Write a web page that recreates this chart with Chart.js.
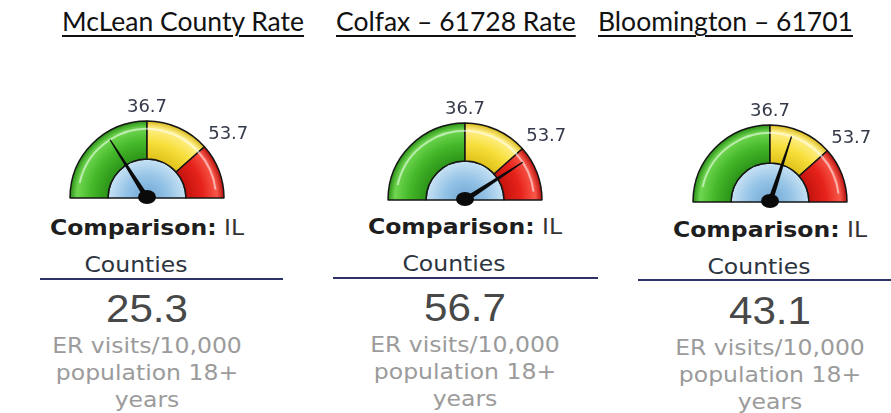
<!DOCTYPE html>
<html>
<head>
<meta charset="utf-8">
<script src="https://cdn.jsdelivr.net/npm/chart.js@4.4.1/dist/chart.umd.min.js"></script>
<style>
  body { margin: 0; background: #fff; }
  #page { position: relative; width: 891px; height: 413px; overflow: hidden; }
  .title { position: absolute; top: 5px; font-family: Lato, sans-serif; font-size: 26.5px;
           color: #111; text-decoration: underline; text-decoration-thickness: 2px;
           text-underline-offset: 4px; white-space: nowrap; }
  .gauge { position: absolute; }
  .line { position: absolute; width: 300px; text-align: center; white-space: nowrap;
          font-family: "DejaVu Sans", Verdana, sans-serif; transform: scaleX(1.12); }
  .cmp { font-size: 21px; color: #333; line-height: 26px; }
  .cmp b { color: #1e1e1e; }
  .cty { font-size: 21px; color: #2c3440; line-height: 26px; }
  .val { font-family: "Liberation Sans", Arial, sans-serif; font-size: 39px; color: #484848;
         line-height: 40px; transform: scaleX(1.08); }
  .unit { font-size: 21px; color: #9b9b9b; line-height: 26px; }
  .rule { position: absolute; height: 2px; background: #2f3266; }
</style>
</head>
<body>
<div id="page"></div>
<script>
const titles = ['McLean County Rate', 'Colfax – 61728 Rate', 'Bloomington – 61701'];
const rates = [25.3, 56.7, 43.1];
const thresholds = [36.7, 53.7];
const gaugeMin = 5;
const gaugeMax = 68.4;
const comparisonLabel = 'Comparison:';
const comparisonGroup = ['IL', 'Counties'];
const unitLines = ['ER visits/10,000', 'population 18+', 'years'];

// layout of the three panels
const titleLeft = [62, 336, 598];
const centers = [[147, 198], [465, 200], [770, 202]];
const rules = [[40, 283, 278], [333, 598, 277], [638, 891, 279]];
const textX = [147, 465, 770];
const textY = [0, -1, 2];

const outerR = 77;
const innerR = 39;
const CW = 240, CH = 130;

const bandStops = [
  ['#2c9418', '#45b82a', '#6fd650', '#2a8f17'],
  ['#e0c21a', '#f7df3c', '#fff08a', '#d8b817'],
  ['#c4130e', '#e6231b', '#f8574a', '#b60f0b']
];

const page = document.querySelector('#page');

function addDiv(cls, html, style) {
  const d = document.createElement('div');
  d.className = cls;
  d.innerHTML = html;
  Object.assign(d.style, style);
  page.appendChild(d);
  return d;
}

function gaugeCenter(chart) {
  const a = chart.chartArea;
  return [(a.left + a.right) / 2, (a.top + a.bottom) / 2 + outerR / 2];
}

function bandFill(c) {
  const stops = bandStops[c.dataIndex];
  const chart = c.chart;
  if (!chart.chartArea) return stops[1];
  const [x, y] = gaugeCenter(chart);
  const g = chart.ctx.createRadialGradient(x, y, innerR, x, y, outerR);
  g.addColorStop(0, stops[0]);
  g.addColorStop(0.45, stops[1]);
  g.addColorStop(0.82, stops[2]);
  g.addColorStop(1, stops[3]);
  return g;
}

function dialFill(c) {
  const chart = c.chart;
  if (!chart.chartArea) return '#9cc8ea';
  const [x, y] = gaugeCenter(chart);
  const g = chart.ctx.createRadialGradient(x, y, 0, x, y, innerR);
  g.addColorStop(0, '#6fa6d4');
  g.addColorStop(0.55, '#94c3e6');
  g.addColorStop(1, '#c8e2f4');
  return g;
}

// needle, hub, gloss and threshold labels
const needlePlugin = {
  id: 'needle',
  afterDatasetsDraw(chart) {
    const arc = chart.getDatasetMeta(0).data[0];
    const cx = arc.x, cy = arc.y;
    const ctx = chart.ctx;
    const value = chart.options.plugins.needle.value;
    const span = gaugeMax - gaugeMin;
    const angleOf = v => -Math.PI + (v - gaugeMin) / span * Math.PI;

    ctx.save();
    ctx.strokeStyle = 'rgba(255,255,255,0.55)';
    ctx.lineWidth = 2;
    ctx.beginPath();
    ctx.arc(cx, cy, outerR - 8, -Math.PI + 0.22, -0.12);
    ctx.stroke();

    const a = angleOf(value);
    const len = 69;
    const px = Math.cos(a + Math.PI / 2), py = Math.sin(a + Math.PI / 2);
    ctx.fillStyle = '#0a0a0a';
    ctx.beginPath();
    ctx.moveTo(cx + px * 2.6, cy + py * 2.6);
    ctx.lineTo(cx + Math.cos(a) * len + px * 0.6, cy + Math.sin(a) * len + py * 0.6);
    ctx.lineTo(cx + Math.cos(a) * len - px * 0.6, cy + Math.sin(a) * len - py * 0.6);
    ctx.lineTo(cx - px * 2.6, cy - py * 2.6);
    ctx.closePath();
    ctx.fill();

    ctx.beginPath();
    ctx.ellipse(cx, cy - 1, 9, 7, 0, 0, Math.PI * 2);
    ctx.fill();

    ctx.fillStyle = '#353a4a';
    ctx.font = '18px "DejaVu Sans", Verdana, sans-serif';
    ctx.textBaseline = 'middle';
    ctx.textAlign = 'center';
    ctx.fillText(String(thresholds[0]), cx, cy - outerR - 14);
    const b = angleOf(thresholds[1]);
    ctx.textAlign = 'left';
    ctx.fillText(String(thresholds[1]), cx + Math.cos(b) * (outerR + 5), cy + Math.sin(b) * outerR - 12);
    ctx.restore();
  }
};

rates.forEach((rate, i) => {
  addDiv('title', titles[i], { left: titleLeft[i] + 'px' });

  const [cx, cy] = centers[i];
  const canvas = document.createElement('canvas');
  canvas.width = CW;
  canvas.height = CH;
  canvas.className = 'gauge';
  canvas.style.left = (cx - CW / 2) + 'px';
  canvas.style.top = (cy - 120) + 'px';
  page.appendChild(canvas);

  new Chart(canvas, {
    type: 'doughnut',
    data: {
      datasets: [
        {
          data: [thresholds[0] - gaugeMin, thresholds[1] - thresholds[0], gaugeMax - thresholds[1]],
          backgroundColor: bandFill,
          borderColor: '#161616',
          borderWidth: 1.5,
          weight: (outerR - innerR) / outerR
        },
        {
          data: [gaugeMax - gaugeMin],
          backgroundColor: dialFill,
          borderColor: '#161616',
          borderWidth: 1.5,
          weight: innerR / outerR
        }
      ]
    },
    options: {
      responsive: false,
      animation: false,
      events: [],
      rotation: -90,
      circumference: 180,
      cutout: 0,
      radius: outerR,
      layout: { padding: { top: 33, bottom: 0, left: 0, right: 0 } },
      plugins: { legend: { display: false }, tooltip: { enabled: false }, needle: { value: rate } }
    },
    plugins: [needlePlugin]
  });

  const x = textX[i] - 150;
  const dy = textY[i];
  addDiv('line cmp', '<b>' + comparisonLabel + '</b> ' + comparisonGroup[0], { left: x + 'px', top: (215 + dy) + 'px' });
  addDiv('line cty', comparisonGroup[1], { left: (x - 11) + 'px', top: (252 + dy) + 'px' });
  const [r0, r1, ry] = rules[i];
  addDiv('rule', '', { left: r0 + 'px', width: (r1 - r0) + 'px', top: ry + 'px' });
  addDiv('line val', rate.toFixed(1), { left: x + 'px', top: (289 + dy) + 'px' });
  unitLines.forEach((t, k) => {
    addDiv('line unit', t, { left: x + 'px', top: (333 + dy + k * 27) + 'px' });
  });
});
</script>
</body>
</html>
